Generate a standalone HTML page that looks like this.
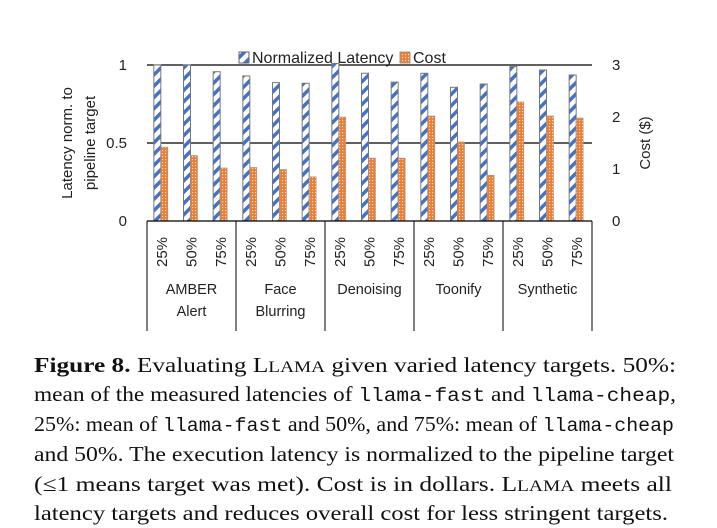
<!DOCTYPE html>
<html><head><meta charset="utf-8"><style>
body{margin:0;background:#fff;width:717px;height:528px;overflow:hidden;position:relative}
svg{position:absolute;left:0;top:0}
</style></head><body>
<svg width="717" height="528" font-family="Liberation Sans, DejaVu Sans, sans-serif">
<defs>
<pattern id="stripe" patternUnits="userSpaceOnUse" width="8" height="8" patternTransform="rotate(-45)">
<rect width="8" height="8" fill="#fff"/><rect width="8" height="3.5" fill="#4472c4"/></pattern>
<pattern id="check" patternUnits="userSpaceOnUse" width="3" height="3">
<rect width="3" height="3" fill="#ed7d31"/><rect width="1.2" height="1.2" fill="#fbd9c0"/></pattern>
</defs>
<g id="grid"></g>
<g id="bars"></g>
<g id="axes"></g>
<g font-family="Liberation Serif, serif" font-size="21" fill="#111">
<text x="34" y="372" textLength="642" lengthAdjust="spacingAndGlyphs"><tspan font-weight="bold">Figure 8.</tspan> Evaluating L<tspan font-size="16">LAMA</tspan> given varied latency targets. 50%:</text>
<text x="34" y="401" textLength="642" lengthAdjust="spacingAndGlyphs">mean of the measured latencies of <tspan font-family="Liberation Mono, monospace" font-size="19">llama-fast</tspan> and <tspan font-family="Liberation Mono, monospace" font-size="19">llama-cheap</tspan>,</text>
<text x="34" y="431" textLength="640" lengthAdjust="spacingAndGlyphs">25%: mean of <tspan font-family="Liberation Mono, monospace" font-size="19">llama-fast</tspan> and 50%, and 75%: mean of <tspan font-family="Liberation Mono, monospace" font-size="19">llama-cheap</tspan></text>
<text x="34" y="461" textLength="640" lengthAdjust="spacingAndGlyphs">and 50%. The execution latency is normalized to the pipeline target</text>
<text x="34" y="491" textLength="638" lengthAdjust="spacingAndGlyphs">(≤1 means target was met). Cost is in dollars. L<tspan font-size="16">LAMA</tspan> meets all</text>
<text x="34" y="520" textLength="634" lengthAdjust="spacingAndGlyphs">latency targets and reduces overall cost for less stringent targets.</text>
</g>
</svg>
<script>
const groups=["AMBER|Alert","Face|Blurring","Denoising","Toonify","Synthetic"];
const targets=["25%","50%","75%"];
const latency=[1.0,1.0,0.957,0.93,0.887,0.883,1.01,0.947,0.89,0.947,0.857,0.878,0.99,0.968,0.936];
const cost=[1.42,1.26,1.02,1.03,0.99,0.85,2.0,1.21,1.21,2.02,1.52,0.88,2.29,2.02,1.98];
const latTicks=["0","0.5","1"];
const costTicks=["0","1","2","3"];
const NS="http://www.w3.org/2000/svg";
const X0=147,X1=592,Y0=221,Y1=65;
const yL=v=>Y0-(Y0-Y1)*v;
const yC=v=>Y0-(Y0-Y1)*v/3;
const n=latency.length,cw=(X1-X0)/n;
const xC=i=>X0+cw*(i+0.5);
function mk(tag,attrs,parent,text){const e=document.createElementNS(NS,tag);for(const k in attrs)e.setAttribute(k,attrs[k]);if(text!=null)e.textContent=text;document.getElementById(parent).appendChild(e);return e;}
[0.5,1].forEach(v=>{const l=mk('line',{x1:X0,x2:X1,y1:yL(v),y2:yL(v),stroke:'#000','stroke-width':1.3},'grid');

});
for(let i=0;i<n;i++){
const b=mk('rect',{x:xC(i)-8,y:yL(latency[i]),width:7,height:Y0-yL(latency[i]),fill:'url(#stripe)',stroke:'#777','stroke-width':1},'bars');


const c=mk('rect',{x:xC(i)-1,y:yC(cost[i]),width:7,height:Y0-yC(cost[i]),fill:'url(#check)',stroke:'#999','stroke-width':0.6},'bars');


}
mk('line',{x1:X0,x2:X1,y1:Y0,y2:Y0,stroke:'#000','stroke-width':1.3},'axes');
mk('line',{x1:X0,x2:X0,y1:Y0,y2:331,stroke:'#000','stroke-width':1},'axes');
for(let g=0;g<groups.length;g++){
const xr=X0+cw*3*(g+1);
mk('line',{x1:xr,x2:xr,y1:Y0,y2:331,stroke:'#000','stroke-width':1},'axes');
const parts=groups[g].split('|');
parts.forEach((p,k)=>{const t=mk('text',{x:X0+cw*3*(g+0.5),y:294+k*22,'text-anchor':'middle','font-size':14.5,fill:'#222'},'axes',p);

});
}
for(let i=0;i<n;i++){
const t=mk('text',{x:0,y:0,'text-anchor':'middle','font-size':15,fill:'#222',transform:`translate(${xC(i)+5},252) rotate(-90)`},'axes',targets[i%3]);

}
latTicks.forEach(s=>{const t=mk('text',{x:127,y:yL(+s)+5,'text-anchor':'end','font-size':15,fill:'#222'},'axes',s);

});
costTicks.forEach(s=>{const t=mk('text',{x:612,y:yC(+s)+5,'font-size':15,fill:'#222'},'axes',s);

});
let t=mk('text',{x:0,y:0,'text-anchor':'middle','font-size':15,fill:'#222',transform:'translate(72,143) rotate(-90)'},'axes','Latency norm. to');


t=mk('text',{x:0,y:0,'text-anchor':'middle','font-size':15,fill:'#222',transform:'translate(95,143) rotate(-90)'},'axes','pipeline target');


t=mk('text',{x:0,y:0,'text-anchor':'middle','font-size':15,fill:'#222',transform:'translate(650,143) rotate(-90)'},'axes','Cost ($)');


let r=mk('rect',{x:239,y:52,width:10,height:11,fill:'url(#stripe)',stroke:'#666'},'axes');


t=mk('text',{x:252,y:63,'font-size':16,fill:'#222'},'axes','Normalized Latency');


r=mk('rect',{x:400,y:52,width:10,height:11,fill:'url(#check)',stroke:'#999'},'axes');


t=mk('text',{x:413,y:63,'font-size':16,fill:'#222'},'axes','Cost');


</script>
</body></html>
